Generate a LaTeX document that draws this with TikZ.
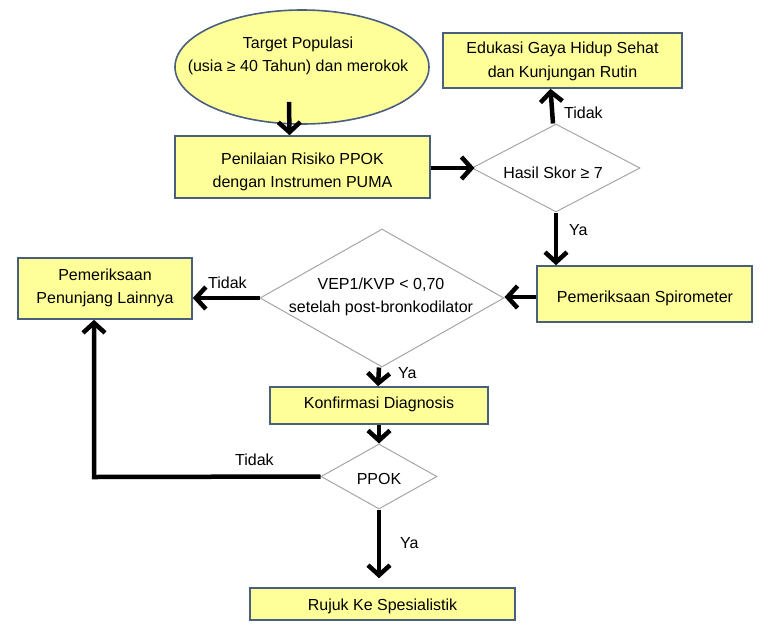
\documentclass[tikz,border=0pt]{standalone}
\usepackage{fontspec}
\setmainfont{Liberation Sans}
\usetikzlibrary{shapes.geometric,arrows.meta,calc}
\definecolor{boxfill}{HTML}{FFFF99}
\definecolor{boxline}{HTML}{4A5F7E}
\definecolor{diaLine}{HTML}{A6A6A6}
\begin{document}
\begin{tikzpicture}[x=1pt,y=-1pt,
  every node/.style={font=\fontsize{16}{23.5}\selectfont},
  procbox/.style={draw=boxline,line width=1.6pt,fill=boxfill,rectangle,align=center,inner sep=0pt},
  decision/.style={draw=diaLine,line width=1pt,fill=white,diamond,align=center,inner sep=0pt},
  flow/.style={line width=4.5pt,-{Straight Barb[length=10pt,width=22pt,line width=4.5pt]}},
  lbl/.style={inner sep=0pt,align=center}]
\useasboundingbox (0,0) rectangle (766,630);
\fill[white] (0,0) rectangle (766,630);

\node[draw=boxline,line width=1.6pt,fill=boxfill,ellipse,minimum width=254pt,minimum height=114pt,inner sep=0pt] (ell) at (302,67) {};
\node[lbl] at (298,56) {Target Populasi\\(usia ≥ 40 Tahun) dan merokok};

\node[procbox,minimum width=255pt,minimum height=62pt] (pen) at (302.5,167) {};
\node[lbl] at (302.5,172) {Penilaian Risiko PPOK\\dengan Instrumen PUMA};

\node[procbox,minimum width=239pt,minimum height=55pt] (edu) at (562.5,60.5) {};
\node[lbl] at (562.5,61.5) {Edukasi Gaya Hidup Sehat\\dan Kunjungan Rutin};

\node[decision,minimum width=168pt,minimum height=88pt] (d1) at (556,168) {};
\node[lbl] at (553,173) {Hasil Skor ≥ 7};

\node[procbox,minimum width=215pt,minimum height=56pt] (spi) at (644.5,294) {};
\node[lbl] at (645,298) {Pemeriksaan Spirometer};

\node[decision,minimum width=244pt,minimum height=138pt] (d2) at (382,298) {};
\node[lbl] at (381,297) {VEP1/KVP < 0,70\\setelah post-bronkodilator};

\node[procbox,minimum width=174pt,minimum height=61pt] (pnj) at (105,288.5) {};
\node[lbl] at (105,288) {Pemeriksaan\\Penunjang Lainnya};

\node[procbox,minimum width=218pt,minimum height=37pt] (kon) at (379,405.5) {};
\node[lbl] at (379,404) {Konfirmasi Diagnosis};

\node[decision,minimum width=116pt,minimum height=65pt] (d3) at (379,476.5) {};
\node[lbl] at (379,479) {PPOK};

\node[procbox,minimum width=265pt,minimum height=32pt] (ruj) at (382.5,604) {};
\node[lbl] at (382.5,606) {Rujuk Ke Spesialistik};

% connectors
\draw[flow] ([xshift=-13pt,yshift=23pt]ell.south) -- ([xshift=-13pt]pen.north);
\draw[flow] (pen.east |- d1.west) -- ([xshift=3pt]d1.west);
\draw[flow] ([xshift=-3pt]d1.north) -- ([xshift=-12pt]edu.south);
\draw[flow] (d1.south) -- (spi.north -| d1.south);
\draw[flow] (spi.west |- 0,297) -- (d2.east |- 0,297);
\draw[flow] (d2.west) -- (pnj.east |- d2.west);
\draw[flow] ([xshift=-3pt]d2.south) -- ([xshift=-1pt]kon.north);
\draw[flow] (kon.south) -- (d3.north);
\coordinate (bend) at (94,477);
\draw[flow] (d3.west) -- (bend) -- (bend |- pnj.south);
\draw[flow,shorten >=9pt] (d3.south) -- (ruj.north -| d3.south);

% labels
\node[lbl,anchor=west] at (564,113) {Tidak};
\node[lbl,anchor=west] at (569,230) {Ya};
\node[lbl,anchor=west] at (208,283) {Tidak};
\node[lbl,anchor=west] at (398,373) {Ya};
\node[lbl,anchor=west] at (235,460) {Tidak};
\node[lbl,anchor=west] at (400,543) {Ya};
\end{tikzpicture}
\end{document}
